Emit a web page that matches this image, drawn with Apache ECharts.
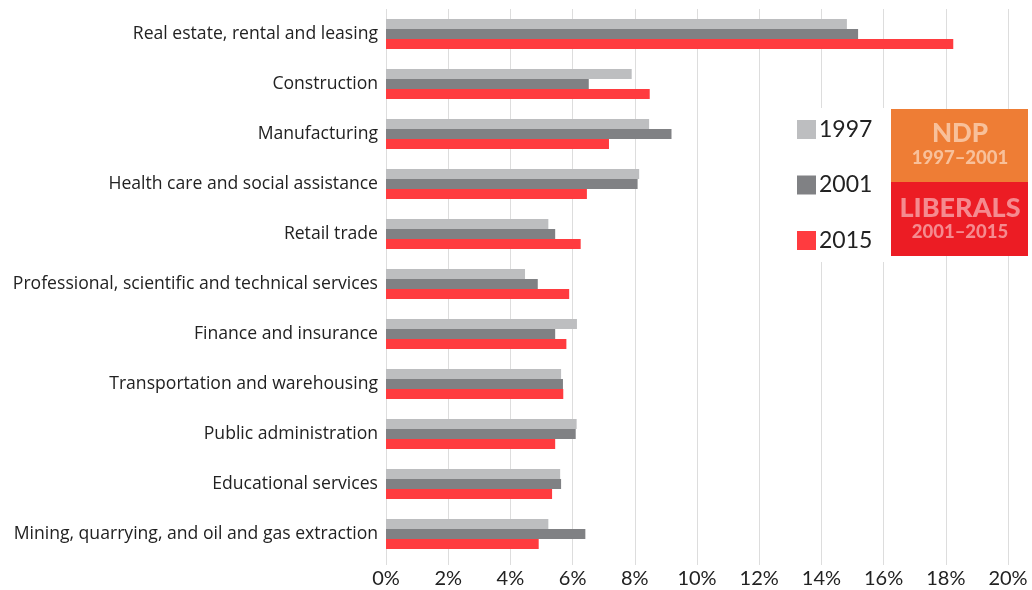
<!DOCTYPE html>
<html>
<head>
<meta charset="utf-8">
<script src="https://cdn.jsdelivr.net/npm/echarts@6/dist/echarts.min.js"></script>
<style>
html,body{margin:0;padding:0;background:#fff;}
#chart{width:1032px;height:590px;}
</style>
</head>
<body>
<div id="chart"></div>
<script>
const categories = [
  "Real estate, rental and leasing",
  "Construction",
  "Manufacturing",
  "Health care and social assistance",
  "Retail trade",
  "Professional, scientific and technical services",
  "Finance and insurance",
  "Transportation and warehousing",
  "Public administration",
  "Educational services",
  "Mining, quarrying, and oil and gas extraction"
];
const seriesNames = ["1997", "2001", "2015"];
const values1997 = [14.82, 7.9, 8.46, 8.14, 5.22, 4.47, 6.14, 5.63, 6.13, 5.6, 5.22];
const values2001 = [15.18, 6.52, 9.18, 8.09, 5.44, 4.88, 5.44, 5.69, 6.1, 5.63, 6.41];
const values2015 = [18.24, 8.48, 7.17, 6.46, 6.26, 5.89, 5.8, 5.7, 5.44, 5.34, 4.91];
const xTicks = [0, 2, 4, 6, 8, 10, 12, 14, 16, 18, 20];
const colors = ["#bdbec0", "#808184", "#ff3b3f"];
const FONT = "Lato, 'Open Sans', sans-serif";
const CAT_FONT = "'Open Sans', Lato, sans-serif";

const chart = echarts.init(document.getElementById('chart'), null, {renderer: 'canvas'});
const allValues = [values1997, values2001, values2015];
chart.setOption({
  animation: false,
  backgroundColor: '#ffffff',
  textStyle: {fontFamily: FONT},
  grid: {left: 386, right: 24, top: 9, bottom: 31, containLabel: false},
  xAxis: {
    type: 'value',
    min: xTicks[0],
    max: xTicks[xTicks.length - 1],
    interval: 2,
    axisLine: {show: false},
    axisTick: {show: true, length: 6, lineStyle: {color: '#dddddd'}},
    splitLine: {show: true, lineStyle: {color: '#dddddd', width: 1}},
    axisLabel: {formatter: '{value}%', color: '#222', fontSize: 20, fontFamily: FONT, margin: 10}
  },
  yAxis: {
    type: 'category',
    data: categories,
    inverse: true,
    axisLine: {show: false},
    axisTick: {show: false},
    axisLabel: {color: '#222', fontSize: 17.6, fontFamily: CAT_FONT, margin: 8}
  },
  legend: {
    data: seriesNames,
    orient: 'vertical',
    left: 786,
    top: 108,
    itemWidth: 19,
    itemHeight: 19,
    itemGap: 32.5,
    icon: 'rect',
    padding: [10, 14, 10, 11],
    backgroundColor: '#ffffff',
    textStyle: {fontSize: 23, color: '#222', fontFamily: FONT, padding: [0, 0, 0, -2]}
  },
  series: seriesNames.map((n, i) => ({
    name: n,
    type: 'bar',
    data: allValues[i],
    barWidth: 10,
    barGap: '0%',
    itemStyle: {color: colors[i]}
  })),
  graphic: [
    {type: 'rect', left: 891, top: 109, shape: {width: 137, height: 73}, style: {fill: '#ee7d35'}, z: 10},
    {type: 'rect', left: 891, top: 182, shape: {width: 137, height: 74}, style: {fill: '#ec1c24'}, z: 10},
    {type: 'text', x: 960, y: 134, style: {text: 'NDP', fill: '#f8c09a', font: '900 26px ' + FONT, align: 'center', verticalAlign: 'middle'}, z: 11},
    {type: 'text', x: 960, y: 158, style: {text: '1997–2001', fill: '#f8c09a', font: '900 18.5px ' + FONT, align: 'center', verticalAlign: 'middle'}, z: 11},
    {type: 'text', x: 960, y: 208, style: {text: 'LIBERALS', fill: '#f58a8f', font: '900 27px ' + FONT, align: 'center', verticalAlign: 'middle'}, z: 11},
    {type: 'text', x: 960, y: 232, style: {text: '2001–2015', fill: '#f58a8f', font: '900 18.5px ' + FONT, align: 'center', verticalAlign: 'middle'}, z: 11}
  ]
});
</script>
</body>
</html>
